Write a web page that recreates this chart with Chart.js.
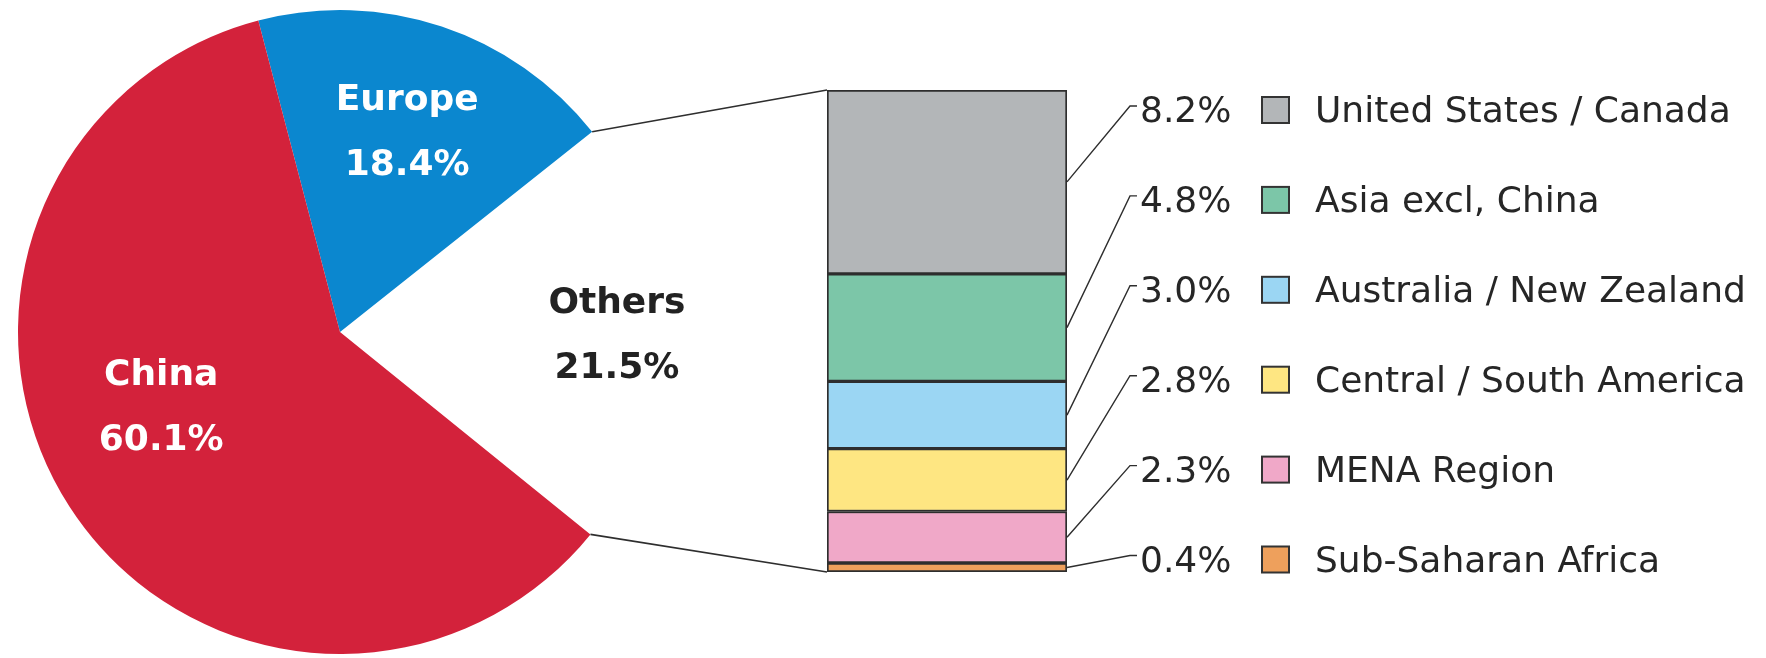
<!DOCTYPE html>
<html><head><meta charset="utf-8">
<script src="https://cdn.jsdelivr.net/npm/chart.js@4"></script>
<style>
html,body{margin:0;padding:0;background:#fff;}
#wrap{position:relative;width:1766px;height:658px;background:#fff;}
canvas{position:absolute;left:0;top:0;}
</style></head><body>
<div id="wrap"><canvas id="pie" width="1766" height="658"></canvas><canvas id="bar" width="1766" height="658"></canvas></div>
<script>
// ---- data ----
const pieLabels = ['Europe', 'Others', 'China'];
const pieValues = [18.4, 21.5, 60.1];
const pieColors = ['#0b87cf', 'rgba(255,255,255,0)', '#d3223b'];
const pieTextColors = ['#ffffff', '#222222', '#ffffff'];

const otherLabels = ['United States / Canada', 'Asia excl, China', 'Australia / New Zealand', 'Central / South America', 'MENA Region', 'Sub-Saharan Africa'];
const otherValues = [8.2, 4.8, 3.0, 2.8, 2.3, 0.4];
const otherColors = ['#b3b6b8', '#7cc6a8', '#9bd6f3', '#fee682', '#f0a8c8', '#eea05c'];

const otherTotal = otherValues.reduce((a, b) => a + b, 0);
const FONT = '"DejaVu Sans", Verdana, sans-serif';
const LINE = '#2e2e2e';

const pieChart = new Chart(document.getElementById('pie'), {
  type: 'pie',
  data: { labels: pieLabels, datasets: [{ data: pieValues, backgroundColor: pieColors, borderWidth: 0 }] },
  options: {
    responsive: false, animation: false,
    rotation: -14.7,
    layout: { padding: { left: 18, top: 10, right: 1104, bottom: 4 } },
    plugins: { legend: { display: false }, tooltip: { enabled: false } }
  }
});

// label placement per pie slice: [radius fraction, angle shift in degrees]
const pieLabelPlace = [[0.66, 0], [0.86, 0], [0.60, 10.6]];

const overlay = {
  id: 'overlay',
  afterDraw(chart) {
    const ctx = chart.ctx;
    const n = otherValues.length;
    const arcs = pieChart.getDatasetMeta(0).data;
    const topEl = chart.getDatasetMeta(n - 1).data[0];
    const botEl = chart.getDatasetMeta(0).data[0];
    const barLeft = topEl.x - topEl.width / 2;
    const barRight = topEl.x + topEl.width / 2;
    ctx.save();
    // connector lines pie -> bar
    ctx.strokeStyle = LINE; ctx.lineWidth = 1.6;
    const eu = arcs[0], ot = arcs[1];
    const p1 = [eu.x + eu.outerRadius * Math.cos(eu.endAngle), eu.y + eu.outerRadius * Math.sin(eu.endAngle)];
    const p2 = [ot.x + ot.outerRadius * Math.cos(ot.endAngle), ot.y + ot.outerRadius * Math.sin(ot.endAngle)];
    ctx.beginPath(); ctx.moveTo(p1[0], p1[1]); ctx.lineTo(barLeft, topEl.y); ctx.stroke();
    ctx.beginPath(); ctx.moveTo(p2[0], p2[1]); ctx.lineTo(barLeft, botEl.base); ctx.stroke();

    // pie labels
    ctx.font = 'bold 36px ' + FONT;
    ctx.textAlign = 'center'; ctx.textBaseline = 'middle';
    arcs.forEach((a, i) => {
      const mid = (a.startAngle + a.endAngle) / 2 + pieLabelPlace[i][1] * Math.PI / 180;
      const r = a.outerRadius * pieLabelPlace[i][0];
      const cx = a.x + r * Math.cos(mid), cy = a.y + r * Math.sin(mid);
      ctx.fillStyle = pieTextColors[i];
      ctx.fillText(pieLabels[i], cx, cy - 30);
      ctx.fillText(pieValues[i].toFixed(1) + '%', cx, cy + 35);
    });

    // right legend with leader lines
    ctx.textAlign = 'left';
    for (let i = 0; i < n; i++) {
      const el = chart.getDatasetMeta(n - 1 - i).data[0];
      const midY = (el.y + el.base) / 2;
      const rowY = 109 + i * 89.9;
      ctx.strokeStyle = LINE; ctx.lineWidth = 1.4;
      ctx.beginPath();
      ctx.moveTo(barRight, midY);
      ctx.lineTo(1130, rowY - 3);
      ctx.lineTo(1137, rowY - 3);
      ctx.stroke();
      ctx.font = '36px ' + FONT;
      ctx.fillStyle = '#262626';
      ctx.fillText(otherValues[i].toFixed(1) + '%', 1140, rowY + 4);
      ctx.fillStyle = otherColors[i];
      ctx.fillRect(1262, rowY - 12, 27, 26);
      ctx.strokeStyle = '#333'; ctx.lineWidth = 2;
      ctx.strokeRect(1262, rowY - 12, 27, 26);
      ctx.fillStyle = '#262626';
      ctx.fillText(otherLabels[i], 1315, rowY + 4);
    }
    ctx.restore();
  }
};

const barDatasets = otherLabels.map((l, i) => ({
  label: l, data: [otherValues[i]], backgroundColor: otherColors[i],
  borderColor: '#2e2e2e', borderWidth: 2, borderSkipped: false,
  categoryPercentage: 1, barPercentage: 1
})).reverse();

const barChart = new Chart(document.getElementById('bar'), {
  type: 'bar',
  data: { labels: ['Others'], datasets: barDatasets },
  options: {
    responsive: false, animation: false,
    layout: { padding: { left: 827, right: 699, top: 90, bottom: 86 } },
    scales: {
      x: { stacked: true, display: false },
      y: { stacked: true, display: false, min: 0, max: otherTotal }
    },
    plugins: { legend: { display: false }, tooltip: { enabled: false } }
  },
  plugins: [overlay]
});
</script>
</body></html>
